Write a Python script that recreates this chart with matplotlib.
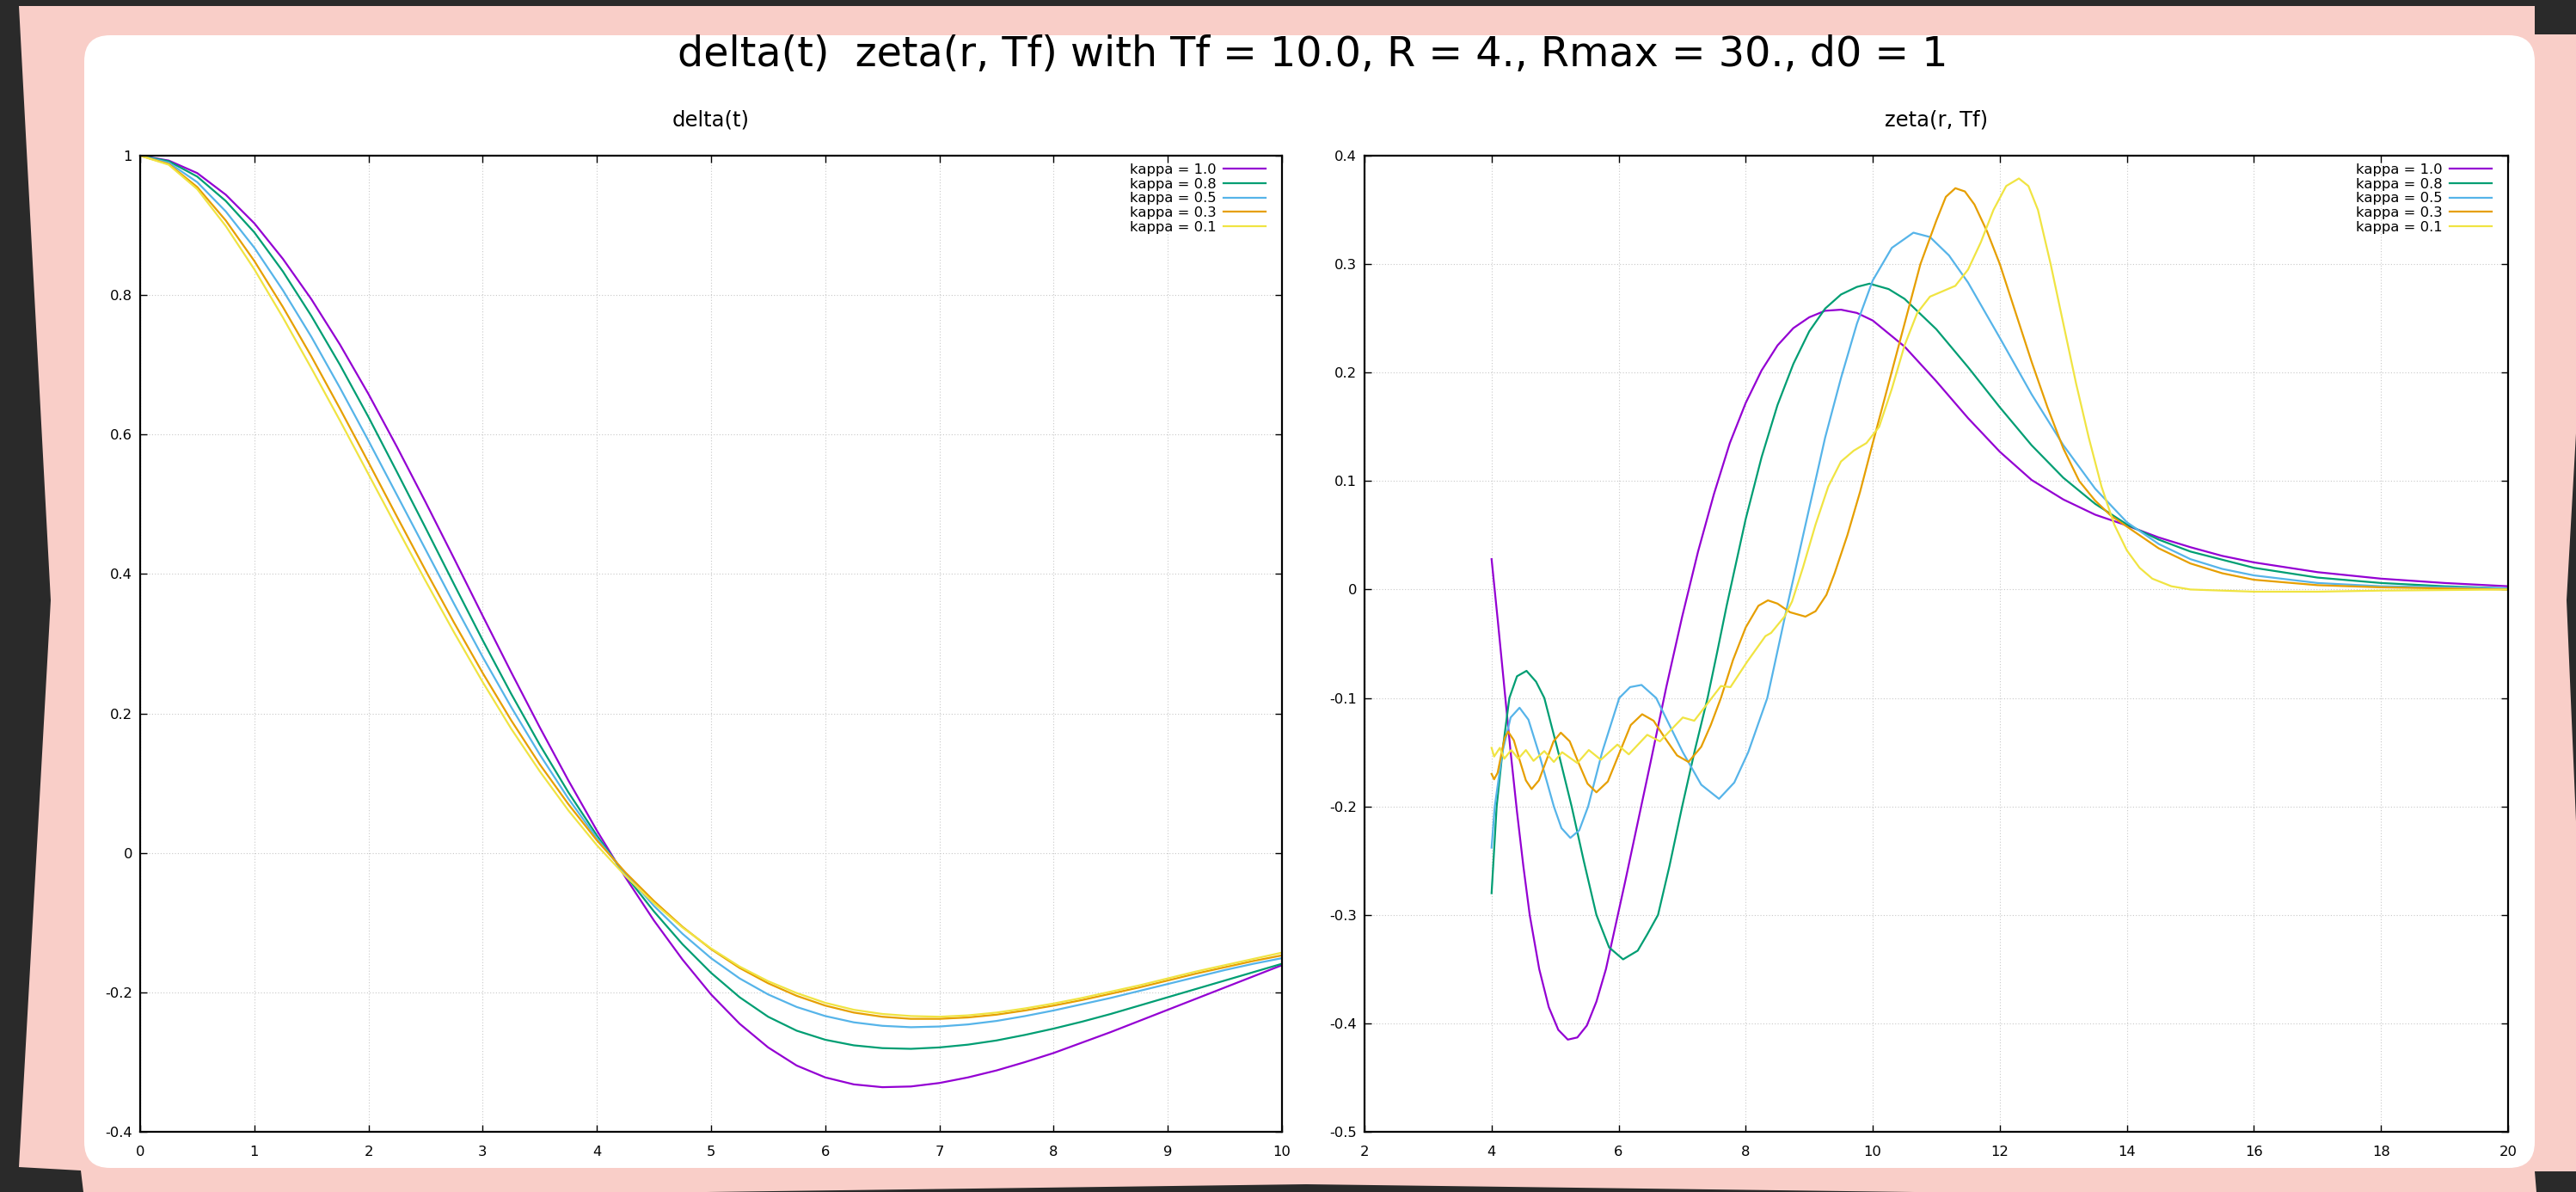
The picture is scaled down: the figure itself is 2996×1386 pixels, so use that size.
import matplotlib
matplotlib.use("Agg")
import matplotlib.pyplot as plt
from matplotlib.patches import Polygon, FancyBboxPatch

plt.rcParams['font.family'] = ['DejaVu Sans']
plt.rcParams['axes.unicode_minus'] = False

W, H = 2996, 1386

# ---- data ----
labels = ["kappa = 1.0", "kappa = 0.8", "kappa = 0.5", "kappa = 0.3", "kappa = 0.1"]
colors = ["#9400d3", "#009e73", "#56b4e9", "#e69f00", "#f0e442"]

# delta(t), t = 0 .. 10 step 0.25
t = [0, 0.25, 0.5, 0.75, 1, 1.25, 1.5, 1.75, 2, 2.25, 2.5, 2.75, 3, 3.25, 3.5, 3.75, 4, 4.25, 4.5, 4.75,
     5, 5.25, 5.5, 5.75, 6, 6.25, 6.5, 6.75, 7, 7.25, 7.5, 7.75, 8, 8.25, 8.5, 8.75, 9, 9.25, 9.5, 9.75, 10]
delta_k10 = [1.000, 0.993, 0.975, 0.944, 0.903, 0.852, 0.794, 0.729, 0.658, 0.582, 0.503, 0.422, 0.340, 0.259,
             0.180, 0.104, 0.032, -0.035, -0.097, -0.153, -0.203, -0.245, -0.279, -0.305, -0.322, -0.332,
             -0.336, -0.335, -0.330, -0.322, -0.312, -0.300, -0.287, -0.272, -0.257, -0.241, -0.225, -0.209,
             -0.193, -0.177, -0.161]
delta_k08 = [1.000, 0.992, 0.970, 0.935, 0.890, 0.834, 0.770, 0.700, 0.625, 0.546, 0.466, 0.385, 0.305, 0.228,
             0.155, 0.087, 0.025, -0.032, -0.084, -0.131, -0.172, -0.207, -0.235, -0.255, -0.268, -0.276,
             -0.280, -0.281, -0.279, -0.275, -0.269, -0.261, -0.252, -0.242, -0.231, -0.219, -0.207, -0.195,
             -0.183, -0.171, -0.159]
delta_k05 = [1.000, 0.990, 0.962, 0.920, 0.868, 0.807, 0.740, 0.667, 0.591, 0.513, 0.435, 0.357, 0.281, 0.209,
             0.141, 0.078, 0.021, -0.030, -0.076, -0.116, -0.151, -0.180, -0.203, -0.221, -0.234, -0.243,
             -0.248, -0.250, -0.249, -0.246, -0.241, -0.234, -0.226, -0.217, -0.208, -0.198, -0.188, -0.178,
             -0.168, -0.159, -0.151]
delta_k03 = [1.000, 0.988, 0.955, 0.907, 0.849, 0.783, 0.712, 0.637, 0.560, 0.482, 0.405, 0.330, 0.258, 0.190,
             0.127, 0.070, 0.018, -0.028, -0.069, -0.106, -0.138, -0.165, -0.187, -0.205, -0.219, -0.229,
             -0.235, -0.238, -0.238, -0.236, -0.232, -0.226, -0.219, -0.211, -0.202, -0.193, -0.183, -0.173,
             -0.164, -0.155, -0.147]
delta_k01 = [1.000, 0.987, 0.952, 0.899, 0.837, 0.768, 0.695, 0.620, 0.543, 0.466, 0.390, 0.316, 0.245, 0.178,
             0.117, 0.061, 0.011, -0.033, -0.072, -0.107, -0.137, -0.163, -0.184, -0.201, -0.215, -0.225,
             -0.231, -0.234, -0.235, -0.233, -0.229, -0.223, -0.216, -0.208, -0.199, -0.190, -0.180, -0.170,
             -0.161, -0.152, -0.143]

# zeta(r, Tf)
r_k10 = [4.0, 4.1, 4.2, 4.3, 4.4, 4.5, 4.6, 4.75, 4.9, 5.05, 5.2, 5.35, 5.5, 5.65, 5.8, 5.95, 6.1, 6.3, 6.5,
         6.75, 7.0, 7.25, 7.5, 7.75, 8.0, 8.25, 8.5, 8.75, 9.0, 9.25, 9.5, 9.75, 10.0, 10.5, 11.0, 11.5, 12.0,
         12.5, 13.0, 13.5, 14.0, 14.5, 15.0, 15.5, 16.0, 17.0, 18.0, 19.0, 20.0]
z_k10 = [0.028, -0.03, -0.09, -0.15, -0.205, -0.255, -0.30, -0.35, -0.385, -0.406, -0.415, -0.413, -0.402,
         -0.38, -0.35, -0.31, -0.27, -0.215, -0.16, -0.09, -0.025, 0.035, 0.088, 0.135, 0.172, 0.202, 0.225,
         0.241, 0.251, 0.257, 0.258, 0.255, 0.248, 0.224, 0.192, 0.158, 0.127, 0.101, 0.083, 0.069, 0.059,
         0.048, 0.039, 0.031, 0.025, 0.016, 0.010, 0.006, 0.003]
r_k08 = [4.0, 4.08, 4.18, 4.28, 4.4, 4.55, 4.7, 4.83, 5.05, 5.26, 5.45, 5.65, 5.85, 6.07, 6.3, 6.45, 6.62,
         6.8, 7.0, 7.2, 7.4, 7.55, 7.7, 7.85, 8.0, 8.25, 8.5, 8.75, 9.0, 9.25, 9.5, 9.75, 9.95, 10.25, 10.5,
         11.0, 11.5, 12.0, 12.5, 13.0, 13.5, 14.0, 14.5, 15.0, 16.0, 17.0, 18.0, 19.0, 20.0]
z_k08 = [-0.28, -0.20, -0.145, -0.10, -0.08, -0.075, -0.085, -0.10, -0.15, -0.20, -0.25, -0.30, -0.33, -0.341,
         -0.333, -0.318, -0.30, -0.255, -0.20, -0.148, -0.10, -0.058, -0.015, 0.025, 0.065, 0.122, 0.170,
         0.208, 0.238, 0.259, 0.272, 0.279, 0.282, 0.277, 0.268, 0.240, 0.205, 0.168, 0.133, 0.103, 0.079,
         0.060, 0.046, 0.035, 0.020, 0.011, 0.006, 0.003, 0.001]
r_k05 = [4.0, 4.05, 4.17, 4.3, 4.44, 4.58, 4.74, 4.98, 5.1, 5.24, 5.38, 5.52, 5.74, 6.01, 6.18, 6.36, 6.59,
         6.8, 7.01, 7.3, 7.58, 7.82, 8.04, 8.34, 8.67, 9.0, 9.25, 9.5, 9.75, 10.0, 10.3, 10.64, 10.9, 11.2,
         11.5, 12.0, 12.5, 13.0, 13.5, 14.0, 14.5, 15.0, 15.5, 16.0, 17.0, 18.0, 20.0]
z_k05 = [-0.238, -0.20, -0.15, -0.118, -0.109, -0.12, -0.15, -0.20, -0.22, -0.229, -0.222, -0.20, -0.15,
         -0.10, -0.09, -0.088, -0.10, -0.125, -0.15, -0.18, -0.193, -0.178, -0.15, -0.10, -0.011, 0.075,
         0.14, 0.195, 0.245, 0.285, 0.315, 0.329, 0.325, 0.308, 0.283, 0.232, 0.18, 0.133, 0.093, 0.062,
         0.042, 0.028, 0.019, 0.013, 0.006, 0.003, 0.001]
r_k03 = [4.0, 4.04, 4.095, 4.15, 4.205, 4.26, 4.35, 4.445, 4.54, 4.63, 4.745, 4.86, 4.975, 5.09, 5.23, 5.37,
         5.51, 5.65, 5.83, 6.01, 6.19, 6.37, 6.55, 6.73, 6.92, 7.1, 7.3, 7.45, 7.61, 7.8, 8.0, 8.2, 8.35, 8.5,
         8.7, 8.94, 9.1, 9.27, 9.4, 9.6, 9.8, 10.0, 10.25, 10.5, 10.75, 11.0, 11.15, 11.3, 11.45, 11.6, 11.8,
         12.0, 12.25, 12.5, 12.75, 13.0, 13.25, 13.5, 13.75, 14.0, 14.5, 15.0, 15.5, 16.0, 17.0, 18.0, 20.0]
z_k03 = [-0.170, -0.175, -0.169, -0.153, -0.137, -0.131, -0.139, -0.158, -0.176, -0.184, -0.176, -0.158,
         -0.140, -0.132, -0.140, -0.160, -0.179, -0.187, -0.177, -0.151, -0.125, -0.115, -0.121, -0.137,
         -0.153, -0.159, -0.145, -0.125, -0.10, -0.065, -0.035, -0.015, -0.010, -0.013, -0.021, -0.025,
         -0.020, -0.005, 0.015, 0.05, 0.09, 0.135, 0.19, 0.245, 0.30, 0.34, 0.362, 0.37, 0.367, 0.355, 0.33,
         0.30, 0.255, 0.21, 0.168, 0.13, 0.10, 0.082, 0.068, 0.058, 0.038, 0.024, 0.015, 0.009, 0.004, 0.002,
         0.0]
r_k01 = [4.0, 4.04, 4.13, 4.2, 4.31, 4.42, 4.54, 4.66, 4.83, 4.98, 5.11, 5.35, 5.53, 5.72, 5.98, 6.16, 6.45,
         6.65, 7.01, 7.19, 7.61, 7.76, 8.03, 8.31, 8.4, 8.61, 8.73, 8.9, 9.1, 9.3, 9.5, 9.7, 9.9, 10.1, 10.3,
         10.5, 10.7, 10.9, 11.1, 11.3, 11.5, 11.7, 11.9, 12.1, 12.3, 12.45, 12.6, 12.8, 13.0, 13.2, 13.4,
         13.6, 13.8, 14.0, 14.2, 14.4, 14.7, 15.0, 16.0, 17.0, 18.0, 20.0]
z_k01 = [-0.146, -0.154, -0.146, -0.156, -0.148, -0.156, -0.148, -0.158, -0.149, -0.159, -0.150, -0.160,
         -0.148, -0.157, -0.143, -0.152, -0.134, -0.140, -0.118, -0.121, -0.089, -0.090, -0.066, -0.043,
         -0.040, -0.025, -0.011, 0.02, 0.06, 0.095, 0.118, 0.128, 0.135, 0.15, 0.185, 0.225, 0.255, 0.27,
         0.275, 0.28, 0.295, 0.32, 0.35, 0.372, 0.379, 0.372, 0.35, 0.30, 0.245, 0.19, 0.14, 0.095, 0.06,
         0.036, 0.02, 0.01, 0.003, 0.0, -0.002, -0.002, -0.001, 0.0]

left_xticks = [0, 1, 2, 3, 4, 5, 6, 7, 8, 9, 10]
left_yticks = [-0.4, -0.2, 0, 0.2, 0.4, 0.6, 0.8, 1]
left_ylabels = ["-0.4", "-0.2", "0", "0.2", "0.4", "0.6", "0.8", "1"]
right_xticks = [2, 4, 6, 8, 10, 12, 14, 16, 18, 20]
right_yticks = [-0.5, -0.4, -0.3, -0.2, -0.1, 0, 0.1, 0.2, 0.3, 0.4]
right_ylabels = ["-0.5", "-0.4", "-0.3", "-0.2", "-0.1", "0", "0.1", "0.2", "0.3", "0.4"]

title = "delta(t)  zeta(r, Tf) with Tf = 10.0, R = 4., Rmax = 30., d0 = 1"

# ---- figure and decorated background ----
fig = plt.figure(figsize=(W / 100, H / 100), dpi=100)
fig.patch.set_facecolor("#2a2a2a")

bg = fig.add_axes([0, 0, 1, 1])
bg.set_xlim(0, W)
bg.set_ylim(H, 0)
bg.axis("off")
pink = [(22, 7), (2948, 7), (2948, 40), (2996, 40), (2996, 504), (2985, 698), (2996, 955),
        (2996, 1362), (2948, 1362), (2950, 1386), (2226, 1386), (1519, 1377), (822, 1386),
        (97, 1386), (94, 1361), (22, 1357), (59, 698)]
bg.add_patch(Polygon(pink, closed=True, facecolor="#f9cec8", edgecolor="none"))
bg.add_patch(FancyBboxPatch((98, 41), 2850, 1317, boxstyle="round,pad=0,rounding_size=30",
                            facecolor="white", edgecolor="none"))


def fx(px):
    return px / W


def fy(py):
    return 1 - py / H


fig.text(fx(1527), fy(77), title, ha="center", va="baseline", fontsize=34.3)

ax1 = fig.add_axes([fx(163), fy(1316), fx(1491 - 163), (1316 - 181) / H])
ax2 = fig.add_axes([fx(1587), fy(1316), fx(2917 - 1587), (1316 - 181) / H])

for y, lab, c in zip([delta_k10, delta_k08, delta_k05, delta_k03, delta_k01], labels, colors):
    ax1.plot(t, y, color=c, lw=1.6, label=lab)

for x, y, lab, c in zip([r_k10, r_k08, r_k05, r_k03, r_k01],
                        [z_k10, z_k08, z_k05, z_k03, z_k01], labels, colors):
    ax2.plot(x, y, color=c, lw=1.6, label=lab)

ax1.set_xlim(0, 10)
ax1.set_ylim(-0.4, 1)
ax1.set_xticks(left_xticks)
ax1.set_xticklabels([str(v) for v in left_xticks])
ax1.set_yticks(left_yticks)
ax1.set_yticklabels(left_ylabels)

ax2.set_xlim(2, 20)
ax2.set_ylim(-0.5, 0.4)
ax2.set_xticks(right_xticks)
ax2.set_xticklabels([str(v) for v in right_xticks])
ax2.set_yticks(right_yticks)
ax2.set_yticklabels(right_ylabels)

for ax, sub in [(ax1, "delta(t)"), (ax2, "zeta(r, Tf)")]:
    ax.grid(True, color="#c8c8c8", lw=0.8, ls=(0, (1, 2)))
    ax.set_axisbelow(True)
    for s in ax.spines.values():
        s.set_linewidth(1.6)
    ax.tick_params(direction="in", length=5.8, width=1.0, top=True, right=True,
                   labelsize=11.8, colors="black")
    ax.tick_params(axis="y", pad=6.5)
    ax.tick_params(axis="x", pad=11.5)
    ax.text(0.5, 1 + 42 / 1135, sub, transform=ax.transAxes, ha="center", va="center", fontsize=17.5)
    ax.legend(loc="upper right", bbox_to_anchor=(1 - 19 / 1330, 1 - 9 / 1135), borderaxespad=0,
              borderpad=0, frameon=False, markerfirst=False, handlelength=3.0, handletextpad=0.5,
              labelspacing=0.1, fontsize=11.8)

fig.savefig("out.png", dpi=100, facecolor=fig.get_facecolor())
